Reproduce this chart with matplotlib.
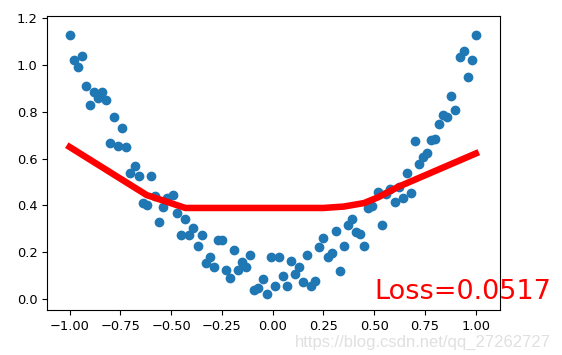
import matplotlib
matplotlib.use('Agg')
import matplotlib.pyplot as plt

# x positions of the samples (evenly spaced from -1 to 1)
x = [-1.00, -0.98, -0.96, -0.94, -0.92, -0.90, -0.88, -0.86, -0.84, -0.82,
     -0.80, -0.78, -0.76, -0.74, -0.72, -0.70, -0.68, -0.66, -0.64, -0.62,
     -0.60, -0.58, -0.56, -0.54, -0.52, -0.49, -0.47, -0.45, -0.43, -0.41,
     -0.39, -0.37, -0.35, -0.33, -0.31, -0.29, -0.27, -0.25, -0.23, -0.21,
     -0.19, -0.17, -0.15, -0.13, -0.11, -0.09, -0.07, -0.05, -0.03, -0.01,
     0.01, 0.03, 0.05, 0.07, 0.09, 0.11, 0.13, 0.15, 0.17, 0.19,
     0.21, 0.23, 0.25, 0.27, 0.29, 0.31, 0.33, 0.35, 0.37, 0.39,
     0.41, 0.43, 0.45, 0.47, 0.49, 0.52, 0.54, 0.56, 0.58, 0.60,
     0.62, 0.64, 0.66, 0.68, 0.70, 0.72, 0.74, 0.76, 0.78, 0.80,
     0.82, 0.84, 0.86, 0.88, 0.90, 0.92, 0.94, 0.96, 0.98, 1.00]

y = [1.13, 1.02, 0.99, 1.04, 0.91, 0.83, 0.885, 0.86, 0.885, 0.85,
     0.665, 0.78, 0.655, 0.73, 0.648, 0.54, 0.57, 0.527, 0.41, 0.40,
     0.527, 0.44, 0.33, 0.394, 0.43, 0.444, 0.366, 0.273, 0.34, 0.273,
     0.303, 0.226, 0.273, 0.152, 0.18, 0.135, 0.25, 0.25, 0.124, 0.091,
     0.209, 0.124, 0.16, 0.135, 0.188, 0.038, 0.046, 0.085, 0.02, 0.18,
     0.055, 0.18, 0.10, 0.057, 0.164, 0.105, 0.135, 0.071, 0.188, 0.055,
     0.078, 0.223, 0.262, 0.178, 0.195, 0.292, 0.12, 0.228, 0.316, 0.342,
     0.287, 0.278, 0.228, 0.387, 0.397, 0.458, 0.315, 0.45, 0.468, 0.415,
     0.48, 0.43, 0.537, 0.455, 0.676, 0.576, 0.608, 0.626, 0.679, 0.686,
     0.746, 0.786, 0.778, 0.867, 0.81, 1.035, 1.059, 0.947, 1.02, 1.13]

# prediction line (piecewise linear, vertices)
pred_x = [-1.00, -0.62, -0.43, 0.25, 0.35, 0.45, 0.52, 0.62, 1.00]
pred_y = [0.65, 0.444, 0.389, 0.389, 0.395, 0.41, 0.435, 0.48, 0.622]

loss = 0.0517

fig = plt.figure(figsize=(5.62, 3.55), dpi=100)
ax = fig.add_axes([0.084, 0.127, 0.806, 0.828])

ax.scatter(x, y, s=36, color='#1f77b4')
ax.plot(pred_x, pred_y, 'r-', lw=4.7)
ax.text(0.5, 0, 'Loss=%.4f' % loss, fontdict={'size': 19.5, 'color': 'red'})

ax.set_xlim(-1.11, 1.12)
ax.set_ylim(-0.047, 1.21)
ax.set_xticks([-1.0, -0.75, -0.5, -0.25, 0.0, 0.25, 0.5, 0.75, 1.0])
ax.set_yticks([0.0, 0.2, 0.4, 0.6, 0.8, 1.0, 1.2])
ax.tick_params(labelsize=9.4)

# watermark
fig.text(0.98, 0.022, 'https://blog.csdn.net/qq_27262727', ha='right',
         fontsize=12, color='#e0e0e0', family='Liberation Sans')

fig.savefig('out.png', dpi=100)
